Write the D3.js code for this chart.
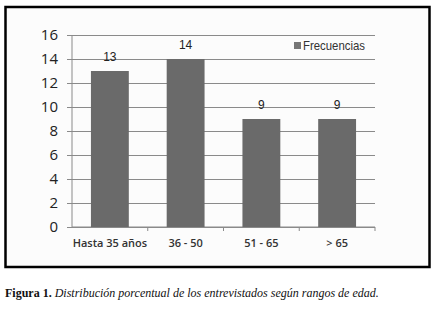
<!DOCTYPE html>
<html>
<head>
<meta charset="utf-8">
<script src="https://cdn.jsdelivr.net/npm/d3@7"></script>
<style>
  body { margin: 0; background: #fff; }
</style>
</head>
<body>
<svg id="chart" width="438" height="318"></svg>
<script>
// chart data
const categories = ["Hasta 35 años", "36 - 50", "51 - 65", "> 65"];
const frecuencias = [13, 14, 9, 9];
const yTicks = [0, 2, 4, 6, 8, 10, 12, 14, 16];
const seriesName = "Frecuencias";

const svg = d3.select("#chart");

// outer frame of the figure
svg.append("rect")
   .attr("x", 5.5).attr("y", 7)
   .attr("width", 424).attr("height", 260)
   .attr("fill", "#fcfcfc")
   .attr("stroke", "#000")
   .attr("stroke-width", 2.5);

const plot = { left: 72, right: 375, top: 35, bottom: 227 };

const x = d3.scaleBand()
    .domain(categories)
    .range([plot.left, plot.right])
    .paddingInner(0.5)
    .paddingOuter(0.25);

const y = d3.scaleLinear()
    .domain([0, 16])
    .range([plot.bottom, plot.top]);

// horizontal gridlines + little ticks on the left
const yAxis = d3.axisLeft(y)
    .tickValues(yTicks)
    .tickSize(-(plot.right - plot.left))
    .tickSizeOuter(0)
    .tickPadding(14);

const gy = svg.append("g")
    .attr("transform", `translate(${plot.left},0)`)
    .call(yAxis);
gy.select(".domain").remove();
gy.selectAll(".tick line")
  .attr("x1", -5)
  .attr("stroke", "#8a8a8a");
gy.selectAll(".tick text")
  .style("font-family", "'Open Sans', sans-serif")
  .style("font-size", "15px")
  .attr("fill", "#222");

// vertical axis line
svg.append("line")
   .attr("x1", plot.left).attr("x2", plot.left)
   .attr("y1", plot.top).attr("y2", plot.bottom)
   .attr("stroke", "#8a8a8a");

// category axis
const bandEdges = categories.map(c => x(c) - x.step() * x.paddingInner() / 2);
bandEdges.push(plot.right);
const xAxis = d3.axisBottom(x).tickSize(0).tickPadding(12);
const gx = svg.append("g")
    .attr("transform", `translate(0,${plot.bottom})`)
    .call(xAxis);
gx.select(".domain").attr("stroke", "#8a8a8a")
  .attr("d", `M${plot.left},0H${plot.right}`);
gx.selectAll(".tick text")
  .style("font-family", "'Open Sans', sans-serif")
  .style("font-size", "11px")
  .style("font-weight", "600")
  .attr("fill", "#333");
gx.selectAll(".edge")
  .data(bandEdges.slice(1))
  .join("line")
  .attr("class", "edge")
  .attr("x1", d => d).attr("x2", d => d)
  .attr("y1", 0).attr("y2", 4)
  .attr("stroke", "#8a8a8a");

// bars
svg.selectAll(".bar")
   .data(frecuencias)
   .join("rect")
   .attr("class", "bar")
   .attr("x", (d, i) => x(categories[i]))
   .attr("y", d => y(d))
   .attr("width", x.bandwidth())
   .attr("height", d => y(0) - y(d))
   .attr("fill", "#6a6a6a");

// value labels
svg.selectAll(".val")
   .data(frecuencias)
   .join("text")
   .attr("class", "val")
   .attr("x", (d, i) => x(categories[i]) + x.bandwidth() / 2)
   .attr("y", d => y(d) - 10)
   .attr("text-anchor", "middle")
   .style("font-family", "'Liberation Sans', Arial, sans-serif")
   .style("font-size", "12px")
   .attr("fill", "#222")
   .text(d => d);

// legend
const legend = svg.append("g").attr("transform", "translate(294,42)");
legend.append("rect")
      .attr("width", 7).attr("height", 7)
      .attr("fill", "#777");
legend.append("text")
      .attr("x", 9).attr("y", 7.5)
      .attr("textLength", 62)
      .attr("lengthAdjust", "spacingAndGlyphs")
      .style("font-family", "'Liberation Sans', Arial, sans-serif")
      .style("font-size", "13px")
      .attr("fill", "#333")
      .text(seriesName);

// caption
const cap = svg.append("text")
    .attr("x", 5).attr("y", 297)
    .style("font-family", "'Liberation Serif', 'DejaVu Serif', serif")
    .style("font-size", "12px")
    .attr("fill", "#111");
cap.append("tspan").style("font-weight", "bold").text("Figura 1. ");
cap.append("tspan").style("font-style", "italic")
   .text("Distribución porcentual de los entrevistados según rangos de edad.");
</script>
</body>
</html>
